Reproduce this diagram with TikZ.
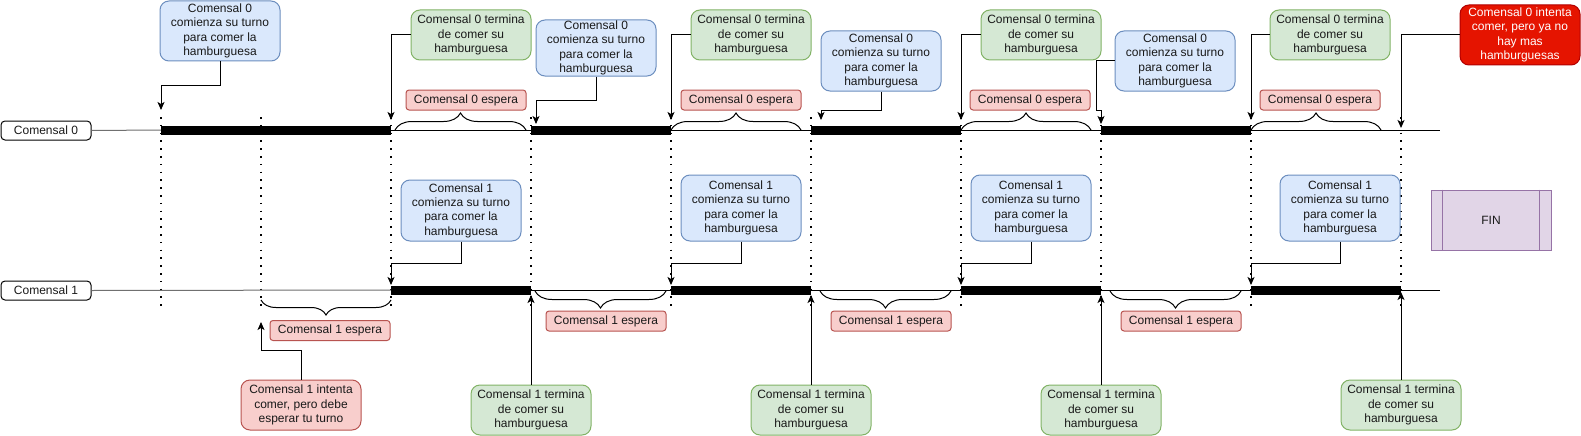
\documentclass[tikz,border=0pt]{standalone}
\usepackage{fontspec}
\setmainfont{Liberation Sans}
\usetikzlibrary{arrows.meta,decorations.pathreplacing}
\definecolor{bfill}{HTML}{DAE8FC}\definecolor{bline}{HTML}{6C8EBF}
\definecolor{gfill}{HTML}{D5E8D4}\definecolor{gline}{HTML}{82B366}
\definecolor{rfill}{HTML}{F8CECC}\definecolor{rline}{HTML}{B85450}
\definecolor{dfill}{HTML}{E51400}\definecolor{dline}{HTML}{B20000}
\definecolor{pfill}{HTML}{E1D5E7}\definecolor{pline}{HTML}{9673A6}
\definecolor{lgray}{HTML}{707070}
\tikzset{
  txt/.style={font=\fontsize{12}{14.4}\selectfont, align=center, inner sep=0pt, text=black!90, line width=1pt},
  bluebox/.style={txt, draw=bline, fill=bfill, rounded corners=9pt, minimum width=120pt},
  greenbox/.style={txt, draw=gline, fill=gfill, rounded corners=9pt, minimum width=120pt, minimum height=50pt},
  waitbox/.style={txt, draw=rline, fill=rfill, rounded corners=3pt, minimum width=120pt, minimum height=20pt},
  redbox/.style={txt, draw=rline, fill=rfill, rounded corners=9pt, minimum width=120pt, minimum height=50pt},
  darkbox/.style={txt, draw=dline, fill=dfill, text=white, rounded corners=9pt, minimum width=120pt, minimum height=60pt},
  lanebox/.style={txt, draw=black, fill=white, rounded corners=4pt, minimum width=90pt, minimum height=19pt},
  arr/.style={draw=black, line width=1pt, -{Stealth[length=8pt,width=7pt,inset=2pt]}},
  bar/.style={line width=9pt, black},
  thin/.style={line width=1pt, black},
  guide/.style={line width=1.6pt, dash pattern=on 1.6pt off 6.2pt, black},
  brc/.style={decorate, decoration={brace, amplitude=#1}, line width=1pt, black},
}
\begin{document}
\begin{tikzpicture}[x=1pt,y=-1pt]
\useasboundingbox (0,0) rectangle (1581,436);
\fill[white] (0,0) rectangle (1581,436);

% lane labels
\node[lanebox] (l0) at (46,130.5) {Comensal 0};
\node[lanebox] (l1) at (46,290.5) {Comensal 1};

% coordinates of the columns
\foreach \n/\x in {c1/161,c2/261,c3/391,c4/531,c5/671,c6/811,c7/961,c8/1101,c9/1251,c10/1401}{
  \coordinate (\n t) at (\x,117);
  \coordinate (\n b) at (\x,310);
}
\coordinate (e0) at (1440,130);
\coordinate (e1) at (1440,290);

% dotted guides
\foreach \n in {c1,c2,c3,c4,c5,c6,c7,c8,c9,c10}{
  \draw[guide] (\n t) -- (\n b);
}

% timelines
\draw[line width=1pt, lgray] (l0.east) -- (161,130);
\draw[thin] (161,130) -- (e0);
\draw[line width=1pt, lgray] (l1.east) -- (391,290);
\draw[thin] (391,290) -- (e1);

% eating bars
\draw[bar] (161,130) -- (391,130);
\draw[bar] (531,130) -- (671,130);
\draw[bar] (811,130) -- (961,130);
\draw[bar] (1101,130) -- (1251,130);
\draw[bar] (391,290) -- (531,290);
\draw[bar] (671,290) -- (811,290);
\draw[bar] (961,290) -- (1101,290);
\draw[bar] (1251,290) -- (1401,290);

% braces row 0
\draw[brc=17pt] (395,130) -- (526,130);
\draw[brc=17pt] (671,130) -- (801,130);
\draw[brc=17pt] (961,130) -- (1091,130);
\draw[brc=17pt] (1251,130) -- (1381,130);
% braces row 1
\draw[brc=15pt] (391,300) -- (261,300);
\draw[brc=17pt] (666,291) -- (535,291);
\draw[brc=17pt] (951,291) -- (820,291);
\draw[brc=17pt] (1241,291) -- (1110,291);

% wait labels
\node[waitbox] (w01) at (466,100) {Comensal 0 espera};
\node[waitbox] (w02) at (741,100) {Comensal 0 espera};
\node[waitbox] (w03) at (1030,100) {Comensal 0 espera};
\node[waitbox] (w04) at (1320,100) {Comensal 0 espera};
\node[waitbox] (w11) at (330,330.5) {Comensal 1 espera};
\node[waitbox] (w12) at (606,321) {Comensal 1 espera};
\node[waitbox] (w13) at (891,321) {Comensal 1 espera};
\node[waitbox] (w14) at (1181,321) {Comensal 1 espera};

% Comensal 0 starts
\node[bluebox, minimum height=60pt] (b01) at (220,31) {Comensal 0\\comienza su turno\\para comer la\\hamburguesa};
\node[bluebox, minimum height=56pt] (b02) at (596,48) {Comensal 0\\comienza su turno\\para comer la\\hamburguesa};
\node[bluebox, minimum height=60pt] (b03) at (881,61) {Comensal 0\\comienza su turno\\para comer la\\hamburguesa};
\node[bluebox, minimum height=60pt] (b04) at (1175,61) {Comensal 0\\comienza su turno\\para comer la\\hamburguesa};

% Comensal 0 ends
\node[greenbox] (g01) at (471,35) {Comensal 0 termina\\de comer su\\hamburguesa};
\node[greenbox] (g02) at (751,35) {Comensal 0 termina\\de comer su\\hamburguesa};
\node[greenbox] (g03) at (1041,35) {Comensal 0 termina\\de comer su\\hamburguesa};
\node[greenbox] (g04) at (1330,35) {Comensal 0 termina\\de comer su\\hamburguesa};

\node[darkbox] (d0) at (1520,35) {Comensal 0 intenta\\comer, pero ya no\\hay mas\\hamburguesas};

% Comensal 1 starts
\node[bluebox, minimum height=61pt] (b11) at (461,210.5) {Comensal 1\\comienza su turno\\para comer la\\hamburguesa};
\node[bluebox, minimum height=66pt] (b12) at (741,208) {Comensal 1\\comienza su turno\\para comer la\\hamburguesa};
\node[bluebox, minimum height=66pt] (b13) at (1031,208) {Comensal 1\\comienza su turno\\para comer la\\hamburguesa};
\node[bluebox, minimum height=66pt] (b14) at (1340,208) {Comensal 1\\comienza su turno\\para comer la\\hamburguesa};

% Comensal 1 ends
\node[greenbox] (g11) at (531,410) {Comensal 1 termina\\de comer su\\hamburguesa};
\node[greenbox] (g12) at (811,410) {Comensal 1 termina\\de comer su\\hamburguesa};
\node[greenbox] (g13) at (1101,410) {Comensal 1 termina\\de comer su\\hamburguesa};
\node[greenbox] (g14) at (1401,405) {Comensal 1 termina\\de comer su\\hamburguesa};

\node[redbox] (r1) at (301,405) {Comensal 1 intenta\\comer, pero debe\\esperar tu turno};

% FIN
\node[txt, draw=pline, fill=pfill, minimum width=120pt, minimum height=60pt] (fin) at (1491,220) {FIN};
\draw[pline, line width=1pt] ([xshift=12pt]fin.north west) -- ([xshift=12pt]fin.south west);
\draw[pline, line width=1pt] ([xshift=-12pt]fin.north east) -- ([xshift=-12pt]fin.south east);

% arrow targets
\coordinate (a01) at (161,110);
\coordinate (a02) at (536,124);
\coordinate (a03) at (821,120);
\coordinate (a04) at (1101,124);
\coordinate (k01) at (391,120);
\coordinate (k02) at (671,120);
\coordinate (k03) at (961,120);
\coordinate (k04) at (1251,120);
\coordinate (kd) at (1401,128);
\coordinate (a11) at (391,285);
\coordinate (a12) at (671,285);
\coordinate (a13) at (961,285);
\coordinate (a14) at (1251,285);
\coordinate (k11) at (531,295);
\coordinate (k12) at (811,295);
\coordinate (k13) at (1101,295);
\coordinate (k14) at (1401,292);
\coordinate (kr) at (261,322);

% connectors
\draw[arr] (b01.south) -- ++(0,24) -| (a01);
\draw[arr] (b02.south) -- ++(0,24) -| (a02);
\draw[arr] (b03.south) -- ++(0,19) -| (a03);
\draw[arr] (b04.west) -| (1096,110) -| (a04);
\draw[arr] (g01.west) -| (k01);
\draw[arr] (g02.west) -| (k02);
\draw[arr] (g03.west) -| (k03);
\draw[arr] (g04.west) -| (k04);
\draw[arr] (d0.west) -| (kd);
\draw[arr] (b11.south) -- ++(0,22) -| (a11);
\draw[arr] (b12.south) -- ++(0,22) -| (a12);
\draw[arr] (b13.south) -- ++(0,22) -| (a13);
\draw[arr] (b14.south) -- ++(0,22) -| (a14);
\draw[arr] (g11.north) -- (k11);
\draw[arr] (g12.north) -- (k12);
\draw[arr] (g13.north) -- (k13);
\draw[arr] (g14.north) -- (k14);
\draw[arr] (r1.north) -- ++(0,-29) -| (kr);
\end{tikzpicture}
\end{document}
